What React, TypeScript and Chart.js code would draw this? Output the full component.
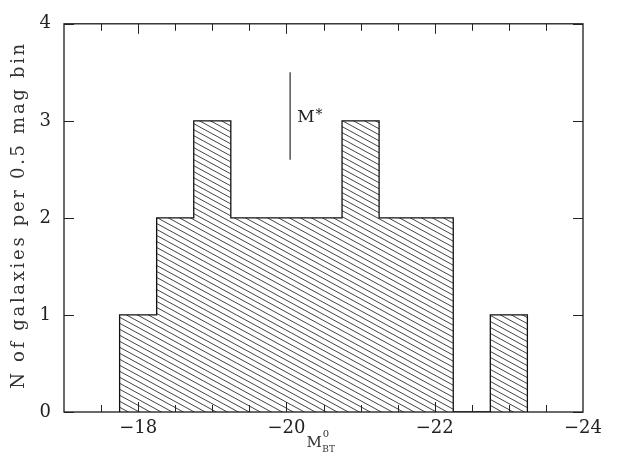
import { useEffect, useRef } from 'react';
import { Chart, registerables } from 'chart.js';

Chart.register(...registerables);

// Histogram data: bin edges (0.5 mag bins) and galaxy counts per bin
const binEdges = [-17.75, -18.25, -18.75, -19.25, -19.75, -20.25, -20.75, -21.25, -21.75, -22.25, -22.75, -23.25];
const binCounts = [1, 2, 3, 2, 2, 2, 3, 2, 2, 0, 1];

// Axis ticks
const xMajorTicks = [-18, -20, -22, -24];
const xMinorTicks = [-17.5, -18, -18.5, -19, -19.5, -20, -20.5, -21, -21.5, -22, -22.5, -23, -23.5];
const yTicks = [0, 1, 2, 3, 4];
const xRange = [-24, -17];
const yRange = [0, 4];

// M* marker
const mStarX = [-20.05, -20.05];
const mStarY = [2.6, 3.5];
const mStarLabelY = 3;

const yTitle = 'N of galaxies per 0.5 mag bin';

const SERIF = '"DejaVu Serif", "Liberation Serif", serif';

function makeHatch(): CanvasPattern | string {
  const c = document.createElement('canvas');
  c.width = 11;
  c.height = 6;
  const g = c.getContext('2d');
  if (!g) return '#ccc';
  g.fillStyle = '#ffffff';
  g.fillRect(0, 0, 11, 6);
  g.strokeStyle = '#444';
  g.lineWidth = 1;
  for (const k of [-6, 0, 6]) {
    g.beginPath();
    g.moveTo(-1, k - 6 / 11);
    g.lineTo(12, k + 6 + 6 / 11);
    g.stroke();
  }
  const p = g.createPattern(c, 'repeat');
  return p || '#ccc';
}

const decorPlugin = {
  id: 'decor',
  afterDraw(chart: any) {
    const { ctx, chartArea } = chart;
    const xs = chart.scales.x;
    const ys = chart.scales.y;
    const { left, right, top, bottom } = chartArea;
    ctx.save();
    ctx.strokeStyle = '#1a1a1a';
    ctx.lineWidth = 1.3;
    ctx.strokeRect(left, top, right - left, bottom - top);

    // x ticks (inward, bottom and top)
    ctx.lineWidth = 1;
    ctx.strokeStyle = '#222';
    for (const v of xMinorTicks) {
      const px = Math.round(xs.getPixelForValue(v)) + 0.5;
      const len = xMajorTicks.includes(v) ? 10 : 7;
      ctx.beginPath();
      ctx.moveTo(px, bottom);
      ctx.lineTo(px, bottom - len);
      ctx.moveTo(px, top);
      ctx.lineTo(px, top + len);
      ctx.stroke();
    }
    // y ticks (inward, left and right)
    for (const v of yTicks) {
      const py = Math.round(ys.getPixelForValue(v)) + 0.5;
      ctx.beginPath();
      ctx.moveTo(left, py);
      ctx.lineTo(left + 10, py);
      ctx.moveTo(right, py);
      ctx.lineTo(right - 10, py);
      ctx.stroke();
    }

    // M* label
    const lx = xs.getPixelForValue(mStarX[0]) + 7;
    const ly = ys.getPixelForValue(mStarLabelY) + 1;
    ctx.fillStyle = '#222';
    ctx.textAlign = 'left';
    ctx.textBaseline = 'alphabetic';
    ctx.font = `17px ${SERIF}`;
    ctx.fillText('M', lx, ly);
    const mw = ctx.measureText('M').width;
    ctx.font = `14px ${SERIF}`;
    ctx.fillText('*', lx + mw + 1, ly - 3);

    // x title: M^0_BT
    const cx = (left + right) / 2;
    ctx.fillStyle = '#333';
    ctx.font = `15px ${SERIF}`;
    const mW = ctx.measureText('M').width;
    const tx = cx - 17;
    ctx.fillText('M', tx, 447);
    ctx.font = `10px ${SERIF}`;
    ctx.fillText('0', tx + mW + 1, 437);
    ctx.font = `9px ${SERIF}`;
    ctx.fillText('BT', tx + mW + 0.5, 452);

    // y title
    ctx.save();
    ctx.translate(24, 215);
    ctx.rotate(-Math.PI / 2);
    ctx.font = `18px ${SERIF}`;
    ctx.fillStyle = '#333';
    const target = 345;
    const w0 = ctx.measureText(yTitle).width;
    const ls = Math.max(0, (target - w0) / (yTitle.length - 1));
    (ctx as any).letterSpacing = `${ls.toFixed(2)}px`;
    const w1 = ctx.measureText(yTitle).width;
    ctx.textAlign = 'left';
    ctx.fillText(yTitle, -w1 / 2, 0);
    ctx.restore();

    ctx.restore();
  },
};

function fmtNum(v: number): string {
  return v < 0 ? '\u2212' + String(Math.abs(v)) : String(v);
}

export default function App() {
  const ref = useRef<HTMLCanvasElement | null>(null);

  useEffect(() => {
    document.body.style.margin = '0';
    document.body.style.overflow = 'hidden';
    const canvas = ref.current;
    if (!canvas) return;

    const outline: { x: number; y: number }[] = [];
    outline.push({ x: binEdges[0], y: 0 });
    binCounts.forEach((c, i) => {
      outline.push({ x: binEdges[i], y: c });
      outline.push({ x: binEdges[i + 1], y: c });
    });
    outline.push({ x: binEdges[binEdges.length - 1], y: 0 });

    const chart = new Chart(canvas, {
      type: 'line',
      data: {
        datasets: [
          {
            data: outline,
            borderColor: '#111',
            borderWidth: 1.3,
            pointRadius: 0,
            tension: 0,
            fill: 'origin',
            backgroundColor: makeHatch() as any,
          },
          {
            data: mStarX.map((x, i) => ({ x, y: mStarY[i] })),
            borderColor: '#555',
            borderWidth: 1.5,
            pointRadius: 0,
            fill: false,
          },
        ],
      },
      options: {
        animation: false,
        responsive: false,
        maintainAspectRatio: false,
        layout: { padding: { left: 0, top: 23, right: 38, bottom: 0 } },
        plugins: { legend: { display: false }, tooltip: { enabled: false } },
        scales: {
          x: {
            type: 'linear',
            min: xRange[0],
            max: xRange[1],
            reverse: true,
            grid: { display: false, drawTicks: false },
            border: { display: false },
            afterBuildTicks: (s: any) => {
              s.ticks = xMajorTicks.map((v) => ({ value: v }));
            },
            afterFit: (s: any) => {
              s.height = 51;
            },
            ticks: {
              padding: 6,
              autoSkip: false,
              maxRotation: 0,
              color: '#222',
              font: { family: SERIF, size: 18 },
              callback: (v: any) => fmtNum(Number(v)),
            },
          },
          y: {
            type: 'linear',
            min: yRange[0],
            max: yRange[1],
            grid: { display: false, drawTicks: false },
            border: { display: false },
            afterBuildTicks: (s: any) => {
              s.ticks = yTicks.map((v) => ({ value: v }));
            },
            afterFit: (s: any) => {
              s.width = 64;
            },
            ticks: {
              padding: 13,
              color: '#222',
              font: { family: SERIF, size: 18 },
              callback: (v: any) => fmtNum(Number(v)),
            },
          },
        },
      },
      plugins: [decorPlugin],
    });
    return () => chart.destroy();
  }, []);

  return (
    <div style={{ width: 621, height: 463, background: '#fff' }}>
      <canvas ref={ref} width={621} height={463} style={{ display: 'block' }} />
    </div>
  );
}
